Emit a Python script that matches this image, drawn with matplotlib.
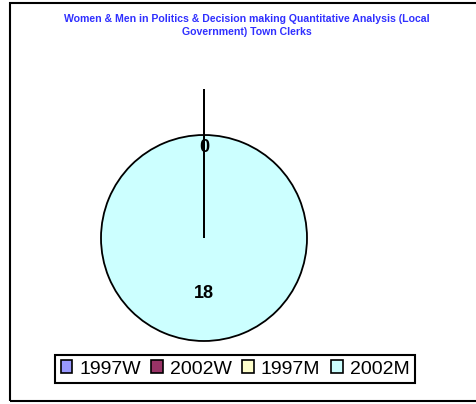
import numpy as np
import matplotlib
matplotlib.use("Agg")
import matplotlib.pyplot as plt
from matplotlib.patches import Patch, Rectangle

categories = ["1997W", "2002W", "1997M", "2002M"]
values = [0, 0, 0, 18]
colors = ["#9999ff", "#993366", "#ffffcc", "#ccffff"]
title = ("Women & Men in Politics & Decision making Quantitative Analysis (Local\n"
         "Government) Town Clerks")

W, H = 477, 404
fig = plt.figure(figsize=(W / 100, H / 100), dpi=100)
fig.patch.set_facecolor("white")

# outer chart frame (right edge runs off the canvas)
fig.patches.append(Rectangle((10 / W, 3 / H), 1.2, 398 / H, transform=fig.transFigure,
                             fill=False, edgecolor="black", linewidth=1.5, clip_on=False))

fig.text(247 / W, 1 - 14 / H, title, ha="center", va="top", color="#3030ff",
         fontsize=7.6, fontweight="bold", linespacing=1.4, family="Liberation Sans")

cx, cy, r = 204, 238, 103
ax = fig.add_axes([(cx - r) / W, (H - cy - r) / H, 2 * r / W, 2 * r / H])
wedges, _ = ax.pie(values, colors=colors, startangle=90, counterclock=False,
                   wedgeprops=dict(edgecolor="black", linewidth=1.3))
ax.set_xlim(-1, 1)
ax.set_ylim(-1, 1)
ax.set_aspect("equal")
ax.axis("off")

shown = set()
for w, v in zip(wedges, values):
    ang = np.deg2rad((w.theta1 + w.theta2) / 2)
    if v == 0:
        w.set_zorder(3)
        dist = 0.88
        # leader line for the empty slices
        ax.plot([np.cos(ang), 1.44 * np.cos(ang)], [np.sin(ang), 1.44 * np.sin(ang)],
                color="black", lw=1.3, clip_on=False, zorder=4)
    else:
        dist = 0.54
    key = (round(np.cos(ang), 3), round(np.sin(ang), 3), v)
    if key in shown:
        continue
    shown.add(key)
    ax.text(dist * np.cos(ang), dist * np.sin(ang), str(v), ha="center", va="center",
            fontsize=13, fontweight="bold", family="Liberation Sans", zorder=5)

handles = [Patch(facecolor=c, edgecolor="black", linewidth=1.2) for c in colors]
leg = fig.legend(handles, categories, loc="center", ncol=4,
                 bbox_to_anchor=(235 / W, (H - 369) / H),
                 prop=dict(family="Liberation Sans", size=14),
                 handlelength=0.6, handleheight=0.6, handletextpad=0.35,
                 columnspacing=0.55, borderpad=0.3, fancybox=False, framealpha=1)
leg.get_frame().set_edgecolor("black")
leg.get_frame().set_linewidth(1.5)

fig.savefig("out.png", dpi=100)
